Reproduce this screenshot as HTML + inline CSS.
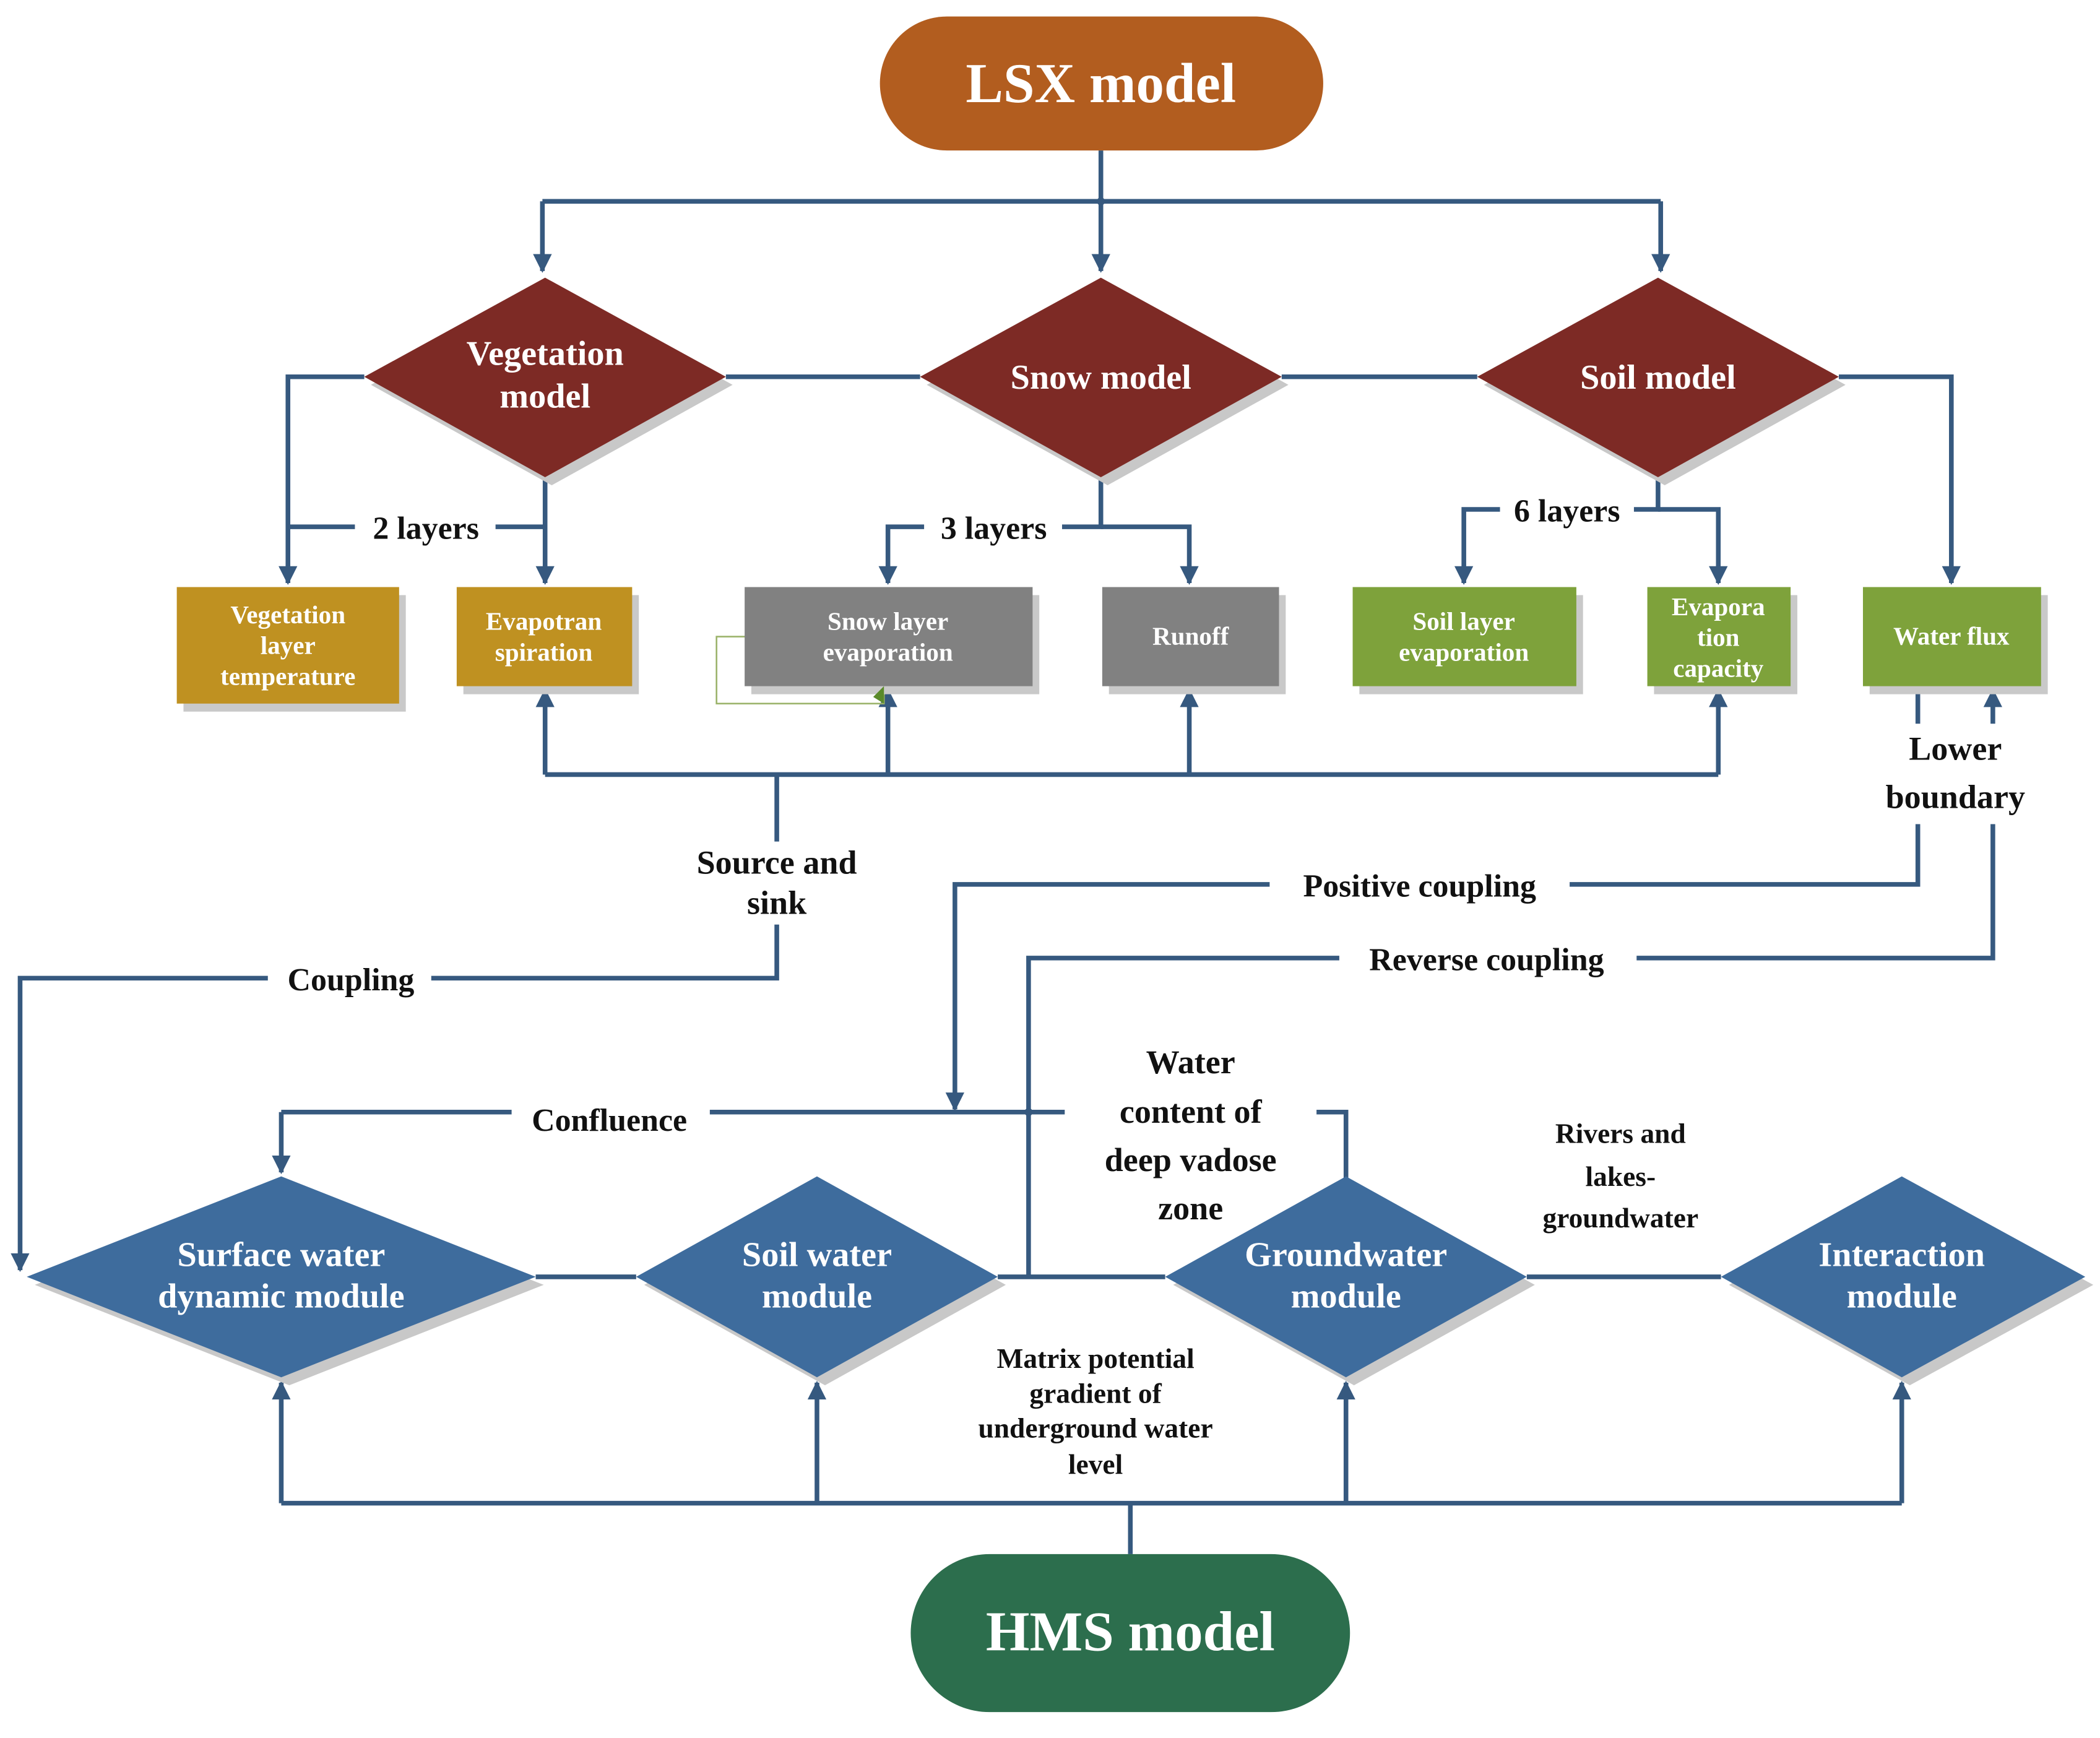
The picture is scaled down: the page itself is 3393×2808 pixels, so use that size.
<!DOCTYPE html>
<html><head><meta charset="utf-8"><style>
html,body{margin:0;padding:0;background:#fff;}
svg{display:block;}
text{font-family:"Liberation Serif",serif;font-weight:bold;text-anchor:middle;}
.w{fill:#fff;}
.k{fill:#111;}
</style></head><body>
<svg width="3393" height="2808" viewBox="0 0 1568 1297" xmlns="http://www.w3.org/2000/svg">
<defs>
<marker id="a" viewBox="0 0 10 10" refX="9" refY="5" markerWidth="4" markerHeight="4" orient="auto" markerUnits="strokeWidth">
<path d="M0,0 L10,5 L0,10 z" fill="#36597f"/></marker>
</defs>
<rect width="1568" height="1297" fill="#fff"/>
<g fill="none" stroke="#36597f" stroke-width="3.5">
<!-- top -->
<path d="M822,112 V150"/>
<path d="M405,150 H1240"/>
<path d="M405,150 V202" marker-end="url(#a)"/>
<path d="M822,150 V202" marker-end="url(#a)"/>
<path d="M1240,150 V202" marker-end="url(#a)"/>
<path d="M542,281 H687 M957,281 H1103"/>
<path d="M272,281 H215 V435" marker-end="url(#a)"/>
<path d="M1373,281 H1457 V435" marker-end="url(#a)"/>
<path d="M407,356 V435" marker-end="url(#a)"/>
<path d="M215,393 H265 M370,393 H407"/>
<path d="M822,356 V393 H793 M690,393 H663 V435" marker-end="url(#a)"/>
<path d="M822,393 H888 V435" marker-end="url(#a)"/>
<path d="M1238,356 V380 H1220 M1120,380 H1093 V435" marker-end="url(#a)"/>
<path d="M1238,380 H1283 V435" marker-end="url(#a)"/>
<!-- source line -->
<path d="M407,578 H1283"/>
<path d="M407,578 V515" marker-end="url(#a)"/>
<path d="M663,578 V515" marker-end="url(#a)"/>
<path d="M888,578 V515" marker-end="url(#a)"/>
<path d="M1283,578 V515" marker-end="url(#a)"/>
<path d="M580,578 V628 M580,690 V730 H322 M200,730 H15 V948" marker-end="url(#a)"/>
<!-- water flux -->
<path d="M1432,512 V540"/>
<path d="M1488,540 V515" marker-end="url(#a)"/>
<path d="M1432,615 V660 H1172 M948,660 H713 V828" marker-end="url(#a)"/>
<path d="M1488,615 V715 H1222 M1000,715 H768 V953"/>
<!-- confluence -->
<path d="M210,830 H382 M530,830 H795"/>
<path d="M210,830 V875" marker-end="url(#a)"/>
<path d="M983,830 H1005 V880"/>
<!-- bottom -->
<path d="M400,953 H475 M745,953 H870 M1140,953 H1285"/>
<path d="M844,1160 V1122 M210,1122 H1420"/>
<path d="M210,1122 V1032" marker-end="url(#a)"/>
<path d="M610,1122 V1032" marker-end="url(#a)"/>
<path d="M1005,1122 V1032" marker-end="url(#a)"/>
<path d="M1420,1122 V1032" marker-end="url(#a)"/>
</g>
<circle cx="768" cy="830" r="3" fill="#36597f"/>
<circle cx="822" cy="150" r="3" fill="#36597f"/>

<!-- LSX -->
<rect x="657" y="12" width="331" height="100" rx="50" fill="#b25d1f"/>
<text x="822" y="76" class="w" font-size="42">LSX model</text>

<!-- red diamonds -->
<g fill="#c8c8c8">
<polygon points="412,212 547,287 412,362 277,287"/>
<polygon points="827,212 962,287 827,362 692,287"/>
<polygon points="1243,212 1378,287 1243,362 1108,287"/>
</g>
<g fill="#7d2a25">
<polygon points="407,207 542,281 407,356 272,281"/>
<polygon points="822,207 957,281 822,356 687,281"/>
<polygon points="1238,207 1373,281 1238,356 1103,281"/>
</g>
<text x="407" y="272" class="w" font-size="26">Vegetation</text>
<text x="407" y="304" class="w" font-size="26">model</text>
<text x="822" y="290" class="w" font-size="26">Snow model</text>
<text x="1238" y="290" class="w" font-size="26">Soil model</text>
<text x="318" y="402" class="k" font-size="24">2 layers</text>
<text x="742" y="402" class="k" font-size="24">3 layers</text>
<text x="1170" y="389" class="k" font-size="24">6 layers</text>

<!-- boxes -->
<rect x="535" y="475" width="125" height="50" fill="none" stroke="#9bb36a" stroke-width="1.2"/>
<g fill="#c9c9c9">
<rect x="137" y="444" width="166" height="87"/>
<rect x="346" y="444" width="131" height="74"/>
<rect x="561" y="444" width="215" height="74"/>
<rect x="828" y="444" width="132" height="74"/>
<rect x="1015" y="444" width="167" height="74"/>
<rect x="1235" y="444" width="107" height="74"/>
<rect x="1396" y="444" width="133" height="74"/>
</g>
<rect x="132" y="438" width="166" height="87" fill="#bf9121"/>
<rect x="341" y="438" width="131" height="74" fill="#bf9121"/>
<rect x="556" y="438" width="215" height="74" fill="#818181"/>
<rect x="823" y="438" width="132" height="74" fill="#818181"/>
<rect x="1010" y="438" width="167" height="74" fill="#7ea23b"/>
<rect x="1230" y="438" width="107" height="74" fill="#7ea23b"/>
<rect x="1391" y="438" width="133" height="74" fill="#7ea23b"/>
<polygon points="652,520 660,512 660,525" fill="#5a8a2a"/>
<g class="w" font-size="19">
<text x="215" y="465" class="w">Vegetation</text>
<text x="215" y="488" class="w">layer</text>
<text x="215" y="511" class="w">temperature</text>
<text x="406" y="470" class="w">Evapotran</text>
<text x="406" y="493" class="w">spiration</text>
<text x="663" y="470" class="w">Snow layer</text>
<text x="663" y="493" class="w">evaporation</text>
<text x="889" y="481" class="w">Runoff</text>
<text x="1093" y="470" class="w">Soil layer</text>
<text x="1093" y="493" class="w">evaporation</text>
<text x="1283" y="459" class="w">Evapora</text>
<text x="1283" y="482" class="w">tion</text>
<text x="1283" y="505" class="w">capacity</text>
<text x="1457" y="481" class="w">Water flux</text>
</g>

<text x="1460" y="567" class="k" font-size="25">Lower</text>
<text x="1460" y="603" class="k" font-size="25">boundary</text>
<text x="580" y="652" class="k" font-size="25">Source and</text>
<text x="580" y="682" class="k" font-size="25">sink</text>
<text x="1060" y="669" class="k" font-size="24">Positive coupling</text>
<text x="1110" y="724" class="k" font-size="24">Reverse coupling</text>
<text x="262" y="739" class="k" font-size="24">Coupling</text>
<text x="455" y="844" class="k" font-size="24">Confluence</text>
<g class="k" font-size="25">
<text x="889" y="801" class="k">Water</text>
<text x="889" y="838" class="k">content of</text>
<text x="889" y="874" class="k">deep vadose</text>
<text x="889" y="910" class="k">zone</text>
</g>
<g font-size="21">
<text x="1210" y="853" class="k">Rivers and</text>
<text x="1210" y="885" class="k">lakes-</text>
<text x="1210" y="916" class="k">groundwater</text>
<text x="818" y="1021" class="k">Matrix potential</text>
<text x="818" y="1047" class="k">gradient of</text>
<text x="818" y="1073" class="k">underground water</text>
<text x="818" y="1100" class="k">level</text>
</g>

<!-- blue diamonds -->
<g fill="#c8c8c8">
<polygon points="216,884 406,959 216,1034 26,959"/>
<polygon points="616,884 751,959 616,1034 481,959"/>
<polygon points="1011,884 1146,959 1011,1034 876,959"/>
<polygon points="1426,884 1563,959 1426,1034 1291,959"/>
</g>
<g fill="#3e6c9d">
<polygon points="210,878 400,953 210,1028 20,953"/>
<polygon points="610,878 745,953 610,1028 475,953"/>
<polygon points="1005,878 1140,953 1005,1028 870,953"/>
<polygon points="1420,878 1557,953 1420,1028 1285,953"/>
</g>
<g font-size="26">
<text x="210" y="945" class="w">Surface water</text>
<text x="210" y="976" class="w">dynamic module</text>
<text x="610" y="945" class="w">Soil water</text>
<text x="610" y="976" class="w">module</text>
<text x="1005" y="945" class="w">Groundwater</text>
<text x="1005" y="976" class="w">module</text>
<text x="1420" y="945" class="w">Interaction</text>
<text x="1420" y="976" class="w">module</text>
</g>

<!-- HMS -->
<rect x="680" y="1160" width="328" height="118" rx="59" fill="#2c6e4d"/>
<text x="844" y="1232" class="w" font-size="42">HMS model</text>
</svg>
</body></html>
